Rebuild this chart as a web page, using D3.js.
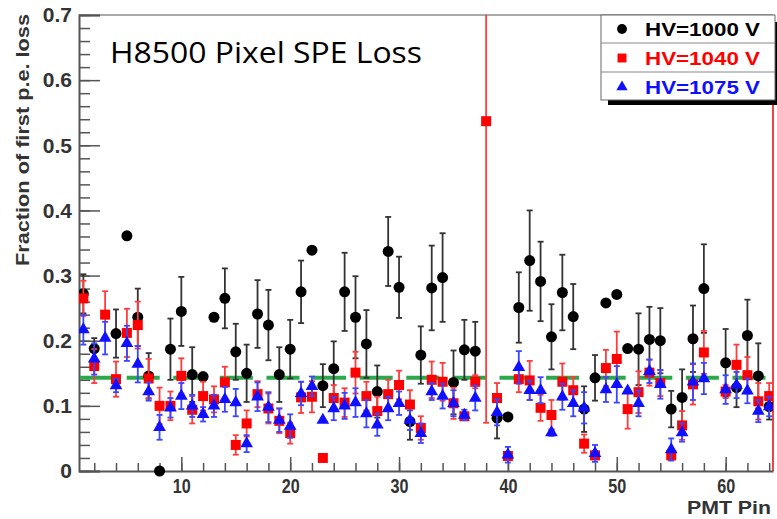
<!DOCTYPE html>
<html>
<head>
<meta charset="utf-8">
<script src="https://d3js.org/d3.v7.min.js"></script>
<style>
  html, body { margin: 0; padding: 0; background: #fff; }
  svg { display: block; }
</style>
</head>
<body>
<div id="chart"></div>
<script>
// PMT pins (x categories)
const pins = [1, 2, 3, 4, 5, 6, 7, 8, 9, 10, 11, 12, 13, 14, 15, 16,
  17, 18, 19, 20, 21, 22, 23, 24, 25, 26, 27, 28, 29, 30, 31, 32,
  33, 34, 35, 36, 37, 38, 39, 40, 41, 42, 43, 44, 45, 46, 47, 48,
  49, 50, 51, 52, 53, 54, 55, 56, 57, 58, 59, 60, 61, 62, 63, 64];

// HV=1000 V
const hv1000 = [0.272, 0.188, null, 0.211, 0.361, 0.236, 0.146, 0.000, 0.187, 0.245, 0.148, 0.145, 0.236, 0.265, 0.183, 0.150,
  0.241, 0.224, 0.148, 0.187, 0.275, 0.339, 0.131, 0.157, 0.275, 0.236, 0.195, 0.122, 0.337, 0.282, 0.076, 0.178,
  0.281, 0.297, 0.136, 0.186, 0.184, null, 0.081, 0.083, 0.251, 0.323, 0.291, 0.206, 0.274, 0.237, 0.095, 0.143,
  0.258, 0.271, 0.188, 0.187, 0.202, 0.200, 0.095, 0.113, 0.203, 0.280, null, 0.166, 0.128, 0.208, 0.146, 0.099];
const hv1000Err = [0.030, 0.016, 0, 0.037, 0, 0.044, 0.035, 0, 0.047, 0.053, 0.042, 0, 0, 0.046, 0.043, 0.044,
  0.052, 0.054, 0.042, 0.045, 0.048, 0, 0.033, 0.042, 0.060, 0.063, 0.052, 0.040, 0.053, 0.047, 0.028, 0.044,
  0.065, 0.068, 0.049, 0.046, 0.045, 0, 0.031, 0, 0.054, 0.077, 0.061, 0.050, 0.058, 0.050, 0.035, 0.035,
  0, 0, 0, 0.055, 0.050, 0.050, 0.028, 0.043, 0.051, 0.068, 0, 0.052, 0.030, 0.055, 0.050, 0.020];

// HV=1040 V
const hv1040 = [0.265, 0.161, 0.240, 0.141, 0.212, 0.224, 0.142, 0.100, 0.100, 0.146, 0.094, 0.115, 0.110, 0.136, 0.040, 0.073,
  0.118, 0.096, 0.077, 0.058, 0.113, 0.114, 0.020, 0.112, 0.105, 0.151, 0.115, 0.092, 0.118, 0.132, 0.102, 0.066,
  0.140, 0.137, 0.104, 0.084, 0.137, 0.537, 0.112, 0.023, 0.141, 0.139, 0.097, 0.086, 0.137, 0.124, 0.042, 0.024,
  0.158, 0.172, 0.095, 0.121, 0.151, 0.135, 0.024, 0.070, 0.133, 0.182, null, 0.122, 0.163, 0.147, 0.107, 0.115];
const hv1040Err = [0.027, 0.026, 0.036, 0.027, 0.037, 0.036, 0.030, 0.028, 0.022, 0.027, 0.021, 0.022, 0.020, 0.024, 0.015, 0.020,
  0.020, 0.023, 0.019, 0.016, 0.024, 0.024, 0.004, 0.020, 0.022, 0.032, 0.022, 0.022, 0.022, 0.022, 0.022, 0.018,
  0.028, 0.029, 0.024, 0.005, 0.010, 0.463, 0.023, 0.005, 0.020, 0.030, 0.020, 0.023, 0.028, 0.020, 0.014, 0.006,
  0.028, 0.042, 0.030, 0.032, 0.020, 0.020, 0.006, 0.022, 0.031, 0.033, 0, 0.010, 0.031, 0.028, 0.028, 0.020];

// HV=1075 V
const hv1075 = [0.217, 0.172, 0.204, 0.131, 0.196, 0.164, 0.122, 0.067, 0.097, 0.115, 0.100, 0.087, 0.100, 0.110, 0.105, 0.042,
  0.114, 0.098, 0.078, 0.069, 0.119, 0.130, 0.078, 0.096, 0.100, 0.105, 0.088, 0.071, 0.096, 0.104, 0.078, 0.058,
  0.122, 0.115, 0.104, 0.086, 0.112, null, 0.090, 0.025, 0.159, 0.124, 0.124, 0.059, 0.114, 0.104, 0.097, 0.027,
  0.125, 0.133, 0.123, 0.104, 0.153, 0.133, 0.033, 0.059, 0.137, 0.142, null, 0.125, 0.132, 0.123, 0.092, 0.099];
const hv1075Err = [0.023, 0.024, 0.025, 0.010, 0.027, 0.028, 0.014, 0.019, 0.015, 0.020, 0.017, 0.011, 0.017, 0.019, 0.021, 0.013,
  0.022, 0.023, 0.018, 0.018, 0.018, 0.015, 0, 0.018, 0.020, 0.022, 0.021, 0.017, 0.018, 0.018, 0.015, 0.015,
  0.013, 0.019, 0.020, 0.008, 0.019, 0, 0.020, 0.012, 0.025, 0.015, 0.020, 0.005, 0.020, 0.020, 0.024, 0.013,
  0.019, 0.028, 0, 0.020, 0.018, 0.022, 0.017, 0.014, 0.028, 0.024, 0, 0.022, 0.020, 0.019, 0.017, 0.015];

// reference level (green dashed line)
const refLevel = 0.143;

const seriesNames = ["HV=1000 V", "HV=1040 V", "HV=1075 V"];
const yTicks = [0, 0.1, 0.2, 0.3, 0.4, 0.5, 0.6, 0.7];
const xTicks = [10, 20, 30, 40, 50, 60];

const width = 777;
const height = 519;
const plot = { left: 79, right: 773, top: 15, bottom: 471 };

const svg = d3.select("#chart")
    .append("svg")
    .attr("width", width)
    .attr("height", height);

const x = d3.scaleLinear().domain([0.6, 64.35]).range([plot.left, plot.right]);
const y = d3.scaleLinear().domain([0, 0.7]).range([plot.bottom, plot.top]);

svg.append("clipPath").attr("id", "clip")
    .append("rect")
    .attr("x", plot.left).attr("y", plot.top)
    .attr("width", plot.right - plot.left).attr("height", plot.bottom - plot.top + 8);

// frame: top + right
svg.append("line")
    .attr("x1", plot.left).attr("x2", plot.right)
    .attr("y1", plot.top).attr("y2", plot.top)
    .attr("stroke", "#aaa").attr("stroke-width", 2);
svg.append("line")
    .attr("x1", plot.right).attr("x2", plot.right)
    .attr("y1", plot.top).attr("y2", plot.bottom)
    .attr("stroke", "#e44").attr("stroke-width", 2);

// y axis (ticks point inward)
const yMinor = d3.range(0, 0.7001, 0.02);
svg.append("g")
    .attr("transform", `translate(${plot.left},0)`)
    .call(d3.axisLeft(y).tickValues(yMinor).tickSize(-11).tickFormat(""))
    .call(g => g.select(".domain").remove())
    .selectAll("line").attr("stroke", "#555").attr("stroke-width", 1.5);

const yAxis = svg.append("g")
    .attr("class", "y-axis")
    .attr("transform", `translate(${plot.left},0)`)
    .call(d3.axisLeft(y).tickValues(yTicks).tickSize(-21).tickPadding(7)
        .tickFormat(d => d === 0 ? "0" : d3.format(".1f")(d)));
yAxis.select(".domain").attr("stroke", "#555").attr("stroke-width", 2);
yAxis.selectAll(".tick line").attr("stroke", "#555").attr("stroke-width", 1.5);
yAxis.selectAll("text")
    .attr("fill", "#333")
    .style("font-family", "'Liberation Sans', Arial, sans-serif")
    .style("font-weight", "bold")
    .style("font-size", "21px");

// x axis (ticks point upward)
const xMinor = d3.range(2, 65, 2);
svg.append("g")
    .attr("transform", `translate(0,${plot.bottom})`)
    .call(d3.axisBottom(x).tickValues(xMinor).tickSize(-8).tickFormat(""))
    .call(g => g.select(".domain").remove())
    .selectAll("line").attr("stroke", "#555").attr("stroke-width", 1.5);

const xAxis = svg.append("g")
    .attr("class", "x-axis")
    .attr("transform", `translate(0,${plot.bottom})`)
    .call(d3.axisBottom(x).tickValues(xTicks).tickSize(-14).tickPadding(7).tickSizeOuter(0));
xAxis.select(".domain").attr("stroke", "#555").attr("stroke-width", 2);
xAxis.selectAll(".tick line").attr("stroke", "#555").attr("stroke-width", 1.5);
xAxis.selectAll("text")
    .attr("fill", "#333")
    .attr("textLength", 18)
    .attr("lengthAdjust", "spacingAndGlyphs")
    .style("font-family", "'Liberation Sans', Arial, sans-serif")
    .style("font-weight", "bold")
    .style("font-size", "21px");

// axis titles
svg.append("text")
    .attr("transform", "rotate(-90)")
    .attr("x", -140)
    .attr("y", 29)
    .attr("text-anchor", "middle")
    .attr("fill", "#333")
    .attr("textLength", 252)
    .attr("lengthAdjust", "spacingAndGlyphs")
    .style("font-family", "'Liberation Sans', Arial, sans-serif")
    .style("font-weight", "bold")
    .style("font-size", "19px")
    .text("Fraction of first p.e. loss");

svg.append("text")
    .attr("x", 771)
    .attr("y", 514)
    .attr("text-anchor", "end")
    .attr("fill", "#333")
    .attr("textLength", 84)
    .attr("lengthAdjust", "spacingAndGlyphs")
    .style("font-family", "'Liberation Sans', Arial, sans-serif")
    .style("font-weight", "bold")
    .style("font-size", "19px")
    .text("PMT Pin");

// green reference line
svg.append("line")
    .attr("x1", x(0.7)).attr("x2", x(64.2))
    .attr("y1", y(refLevel)).attr("y2", y(refLevel))
    .attr("stroke", "#2aa84a")
    .attr("stroke-width", 4)
    .attr("stroke-dasharray", "33,13.6");

// series with error bars
const series = [
    { name: seriesNames[0], values: hv1000, errs: hv1000Err, color: "#000", barColor: "#333", shape: d3.symbolCircle, size: 95 },
    { name: seriesNames[1], values: hv1040, errs: hv1040Err, color: "#ff0000", barColor: "#ff3b3b", shape: d3.symbolSquare, size: 100 },
    { name: seriesNames[2], values: hv1075, errs: hv1075Err, color: "#1010ff", barColor: "#3b46ff", shape: d3.symbolTriangle, size: 70 }
];

const dataArea = svg.append("g").attr("clip-path", "url(#clip)");

series.forEach(s => {
    const pts = pins.map((p, i) => ({ pin: p, v: s.values[i], e: s.errs[i] }))
        .filter(d => d.v !== null);
    const g = dataArea.append("g");
    const withErr = pts.filter(d => d.e > 0);

    g.selectAll(".bar")
        .data(withErr)
        .enter()
        .append("line")
        .attr("x1", d => x(d.pin)).attr("x2", d => x(d.pin))
        .attr("y1", d => y(d.v - d.e)).attr("y2", d => y(d.v + d.e))
        .attr("stroke", s.barColor).attr("stroke-width", 1.8);

    ["lo", "hi"].forEach(k => {
        g.selectAll(".cap-" + k)
            .data(withErr)
            .enter()
            .append("line")
            .attr("x1", d => x(d.pin) - 3).attr("x2", d => x(d.pin) + 3)
            .attr("y1", d => y(k === "lo" ? d.v - d.e : d.v + d.e))
            .attr("y2", d => y(k === "lo" ? d.v - d.e : d.v + d.e))
            .attr("stroke", s.barColor).attr("stroke-width", 1.8);
    });

    g.selectAll(".mark")
        .data(pts)
        .enter()
        .append("path")
        .attr("d", d3.symbol().type(s.shape).size(s.size))
        .attr("transform", d => `translate(${x(d.pin)},${y(d.v)})`)
        .attr("fill", s.color);
});

// title
svg.append("text")
    .attr("x", 110)
    .attr("y", 63)
    .attr("textLength", 312)
    .attr("lengthAdjust", "spacingAndGlyphs")
    .attr("fill", "#000")
    .style("font-family", "'Open Sans', sans-serif")
    .style("font-size", "29px")
    .text("H8500 Pixel SPE Loss");

// legend
const legend = svg.append("g").attr("class", "legend");
legend.append("rect")
    .attr("x", 608).attr("y", 22)
    .attr("width", 172).attr("height", 83)
    .attr("fill", "#000");
legend.append("rect")
    .attr("x", 601).attr("y", 15)
    .attr("width", 174).attr("height", 85)
    .attr("fill", "#fff")
    .attr("stroke", "#666").attr("stroke-width", 1);
[43, 72].forEach(yy => {
    legend.append("line")
        .attr("x1", 601).attr("x2", 775)
        .attr("y1", yy).attr("y2", yy)
        .attr("stroke", "#888").attr("stroke-width", 1);
});
series.forEach((s, i) => {
    const cy = 29 + i * 29;
    legend.append("path")
        .attr("d", d3.symbol().type(s.shape).size(s.size * 0.8))
        .attr("transform", `translate(622,${cy})`)
        .attr("fill", s.color);
    legend.append("text")
        .attr("x", 645)
        .attr("y", cy + 7)
        .attr("fill", s.color)
        .attr("textLength", 115)
        .attr("lengthAdjust", "spacingAndGlyphs")
        .style("font-family", "'Liberation Sans', Arial, sans-serif")
        .style("font-weight", "bold")
        .style("font-size", "18px")
        .text(s.name);
});
</script>
</body>
</html>
